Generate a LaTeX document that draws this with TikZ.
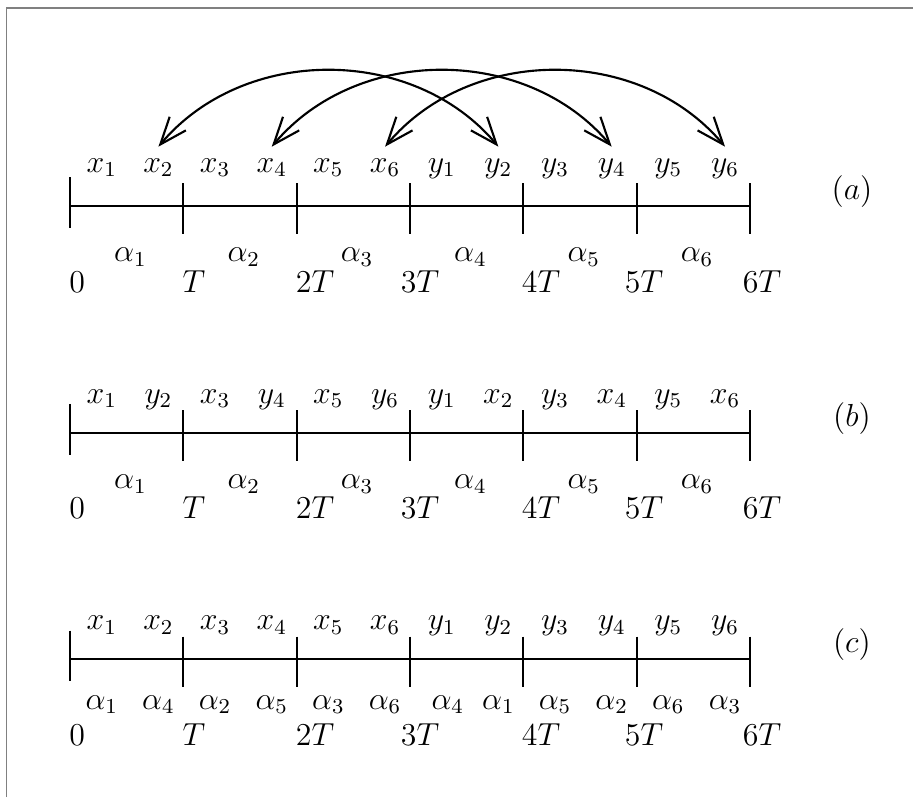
\documentclass[tikz,border=0pt]{standalone}
\usepackage{amsmath}
\usetikzlibrary{arrows.meta}
\begin{document}
\begin{tikzpicture}[>={Straight Barb[length=3.6mm,width=2.8mm]}, thick, font=\large,
  lab/.style={anchor=base, text height=1.35ex},
  coef/.style={anchor=base},
  frame/.style={gray, line width=0.4pt}]
\useasboundingbox (-0.927,-7.823) rectangle (11.158,2.727);
% frame
\draw[frame] (-0.847,-7.823) -- (-0.847,2.621) -- (11.158,2.621);
% time axes
\foreach \r/\y in {a/0, b/-3, c/-6}{
  \foreach \i in {0,...,6} \coordinate (\r\i) at (1.5*\i,\y);
  \draw (\r0) -- (\r6);
  \draw ([yshift=3.8mm]\r0) -- ([yshift=-2.9mm]\r0);
  \foreach \i in {1,...,6} \draw ([yshift=3mm]\r\i) -- ([yshift=-3.7mm]\r\i);
  \foreach \x/\t [count=\k from 0] in {0.093/0, 1.64/T, 3.243/2T, 4.633/3T, 6.235/4T, 7.598/5T, 9.16/6T}
    \node[coef] (\r-t\k) at (\x,\y-1.14) {$\t$};
  \node (\r-name) at (10.35,\y+0.19) {$(\r)$};
}
% symbols above the axes
\foreach \c/\n [count=\k from 0] in {x/1,x/2,x/3,x/4,x/5,x/6,y/1,y/2,y/3,y/4,y/5,y/6}{
  \node[lab] (a-\c\n) at (0.42+0.75*\k,0.45) {$\c_\n$};
  \node[lab] (c-\c\n) at (0.42+0.75*\k,-5.61) {$\c_\n$};
}
\foreach \c/\n [count=\k from 0] in {x/1,y/2,x/3,y/4,x/5,y/6,y/1,x/2,y/3,x/4,y/5,x/6}
  \node[lab] (b-\c\n) at (0.42+0.75*\k,-2.61) {$\c_\n$};
% coefficients below the axes
\foreach \r/\y in {a/0, b/-3}
  \foreach \k in {1,...,6} \node[coef] (\r-al\k) at (1.5*\k-0.7,\y-0.74) {$\alpha_\k$};
\foreach \n/\x [count=\k] in {1/0.42,4/1.17,2/1.92,5/2.67,3/3.42,6/4.17,4/5.0,1/5.67,5/6.42,2/7.17,6/7.92,3/8.67}
  \node[coef] (c-al\k) at (\x,-6.66) {$\alpha_\n$};
% swaps
\draw[<->] (a-x2.north) to[bend left=50] (a-y2.north);
\draw[<->] (a-x4.north) to[bend left=50] (a-y4.north);
\draw[<->] (a-x6.north) to[bend left=50] (a-y6.north);
\end{tikzpicture}
\end{document}
